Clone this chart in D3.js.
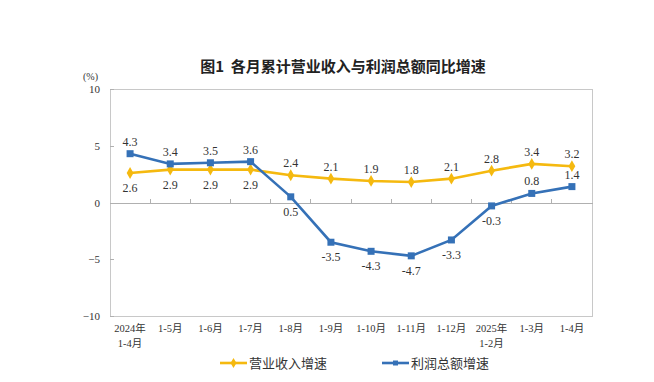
<!DOCTYPE html>
<meta charset="utf-8">
<style>
body { margin: 0; background: #fff; }
svg { display: block; }
.axis text { font: 11px "Liberation Serif", "Noto Sans CJK SC", serif; fill: #333; }
.axis line, .axis path { fill: none; stroke: #b0b0b0; shape-rendering: crispEdges; }
.lbl { font: 12px "Liberation Serif", serif; fill: #333; text-anchor: middle; }
</style>
<body>
<div id="chart"></div>
<script src="https://cdn.jsdelivr.net/npm/d3@7"></script>
<script>
var months = ["2024年|1-4月", "1-5月", "1-6月", "1-7月", "1-8月", "1-9月", "1-10月", "1-11月", "1-12月", "2025年|1-2月", "1-3月", "1-4月"];
var revenue = [2.6, 2.9, 2.9, 2.9, 2.4, 2.1, 1.9, 1.8, 2.1, 2.8, 3.4, 3.2];
var profit = [4.3, 3.4, 3.5, 3.6, 0.5, -3.5, -4.3, -4.7, -3.3, -0.3, 0.8, 1.4];
var revenueLabelBelow = [true, true, true, true, false, false, false, false, false, false, false, false];
var profitLabelBelow = [false, false, false, false, true, true, true, true, true, true, false, false];
var yTicks = [-10, -5, 0, 5, 10];

var W = 654, H = 382,
    margin = {top: 89, right: 62, bottom: 66, left: 110},
    width = W - margin.left - margin.right,
    height = H - margin.top - margin.bottom;

var yellow = "#F5B90F", blue = "#3571B7";

var svg = d3.select("#chart").append("svg").attr("width", W).attr("height", H);

svg.append("text")
  .attr("x", 343).attr("y", 72)
  .attr("text-anchor", "middle")
  .style("font", "bold 15px 'Noto Sans CJK SC', sans-serif")
  .style("white-space", "pre")
  .style("fill", "#222")
  .text("图1  各月累计营业收入与利润总额同比增速");

var g = svg.append("g").attr("transform", "translate(" + margin.left + "," + margin.top + ")");

var x = d3.scaleBand().domain(months).range([0, width]);
var y = d3.scaleLinear().domain([-10, 10]).range([height, 0]);

// frame
g.append("rect")
  .attr("width", width).attr("height", height)
  .attr("fill", "none").attr("stroke", "#c8c8c8")
  .style("shape-rendering", "crispEdges");

// y axis
var yAxis = g.append("g").attr("class", "axis")
  .call(d3.axisLeft(y).tickValues(yTicks).tickSize(-4).tickPadding(10));
yAxis.select(".domain").remove();
yAxis.selectAll("line").attr("stroke", "#c8c8c8");

g.append("text")
  .attr("x", -12).attr("y", -9)
  .attr("text-anchor", "end")
  .style("font", "10px 'Liberation Serif', serif").style("fill", "#333")
  .text("(%)");

// zero axis with band ticks
var xAxis = g.append("g").attr("class", "axis")
  .attr("transform", "translate(0," + y(0) + ")")
  .call(d3.axisTop(x).tickSize(0).tickFormat(""));
g.append("g").selectAll("line")
  .data(months.slice(1))
  .enter().append("line")
  .attr("x1", function(d) { return x(d); })
  .attr("x2", function(d) { return x(d); })
  .attr("y1", y(0)).attr("y2", y(0) - 4)
  .attr("stroke", "#b0b0b0")
  .style("shape-rendering", "crispEdges");

// category labels at bottom
var cat = g.append("g").selectAll("text")
  .data(months)
  .enter().append("text")
  .attr("transform", function(d) { return "translate(" + (x(d) + x.bandwidth() / 2) + "," + (height + 16) + ")"; })
  .attr("text-anchor", "middle")
  .style("font", "10.5px 'Liberation Serif', 'Noto Sans CJK SC', serif")
  .style("fill", "#333");
cat.each(function(d) {
  var parts = d.split("|"), t = d3.select(this);
  parts.forEach(function(p, i) {
    t.append("tspan").attr("x", 0).attr("dy", i === 0 ? 0 : 15).text(p);
  });
});

var cx = function(d, i) { return x(months[i]) + x.bandwidth() / 2; };
var line = d3.line().x(cx).y(function(d) { return y(d); });

// revenue series
g.append("path").datum(revenue)
  .attr("d", line).attr("fill", "none")
  .attr("stroke", yellow).attr("stroke-width", 2.6);
g.append("g").selectAll("path")
  .data(revenue).enter().append("path")
  .attr("d", d3.symbol().type(d3.symbolDiamond).size(40))
  .attr("transform", function(d, i) { return "translate(" + cx(d, i) + "," + y(d) + ")"; })
  .attr("fill", yellow);

// profit series
g.append("path").datum(profit)
  .attr("d", line).attr("fill", "none")
  .attr("stroke", blue).attr("stroke-width", 2.6);
g.append("g").selectAll("rect")
  .data(profit).enter().append("rect")
  .attr("x", function(d, i) { return cx(d, i) - 3.5; })
  .attr("y", function(d) { return y(d) - 3.5; })
  .attr("width", 7).attr("height", 7)
  .attr("fill", blue);

// data labels
function labels(data, below) {
  g.append("g").selectAll("text")
    .data(data).enter().append("text")
    .attr("class", "lbl")
    .attr("x", cx)
    .attr("y", function(d, i) { return y(d) + (below[i] ? 19 : -8); })
    .text(function(d) { return d.toFixed(1); });
}
labels(revenue, revenueLabelBelow);
labels(profit, profitLabelBelow);

// legend
var legend = [
  {name: "营业收入增速", color: yellow, x: 220, sym: "diamond"},
  {name: "利润总额增速", color: blue, x: 382, sym: "square"}
];
var lg = svg.append("g").selectAll("g")
  .data(legend).enter().append("g")
  .attr("transform", function(d) { return "translate(" + d.x + ",363)"; });
lg.append("line")
  .attr("x1", 0).attr("x2", 27)
  .attr("stroke", function(d) { return d.color; })
  .attr("stroke-width", 2.6);
lg.append("path")
  .attr("d", function(d) { return d3.symbol().type(d.sym === "diamond" ? d3.symbolDiamond : d3.symbolSquare).size(d.sym === "diamond" ? 30 : 25)(); })
  .attr("transform", "translate(13.5,0)")
  .attr("fill", function(d) { return d.color; });
lg.append("text")
  .attr("x", 29).attr("y", 5)
  .style("font", "13px 'Noto Sans CJK SC', sans-serif")
  .style("fill", "#333")
  .text(function(d) { return d.name; });
</script>
</body>
